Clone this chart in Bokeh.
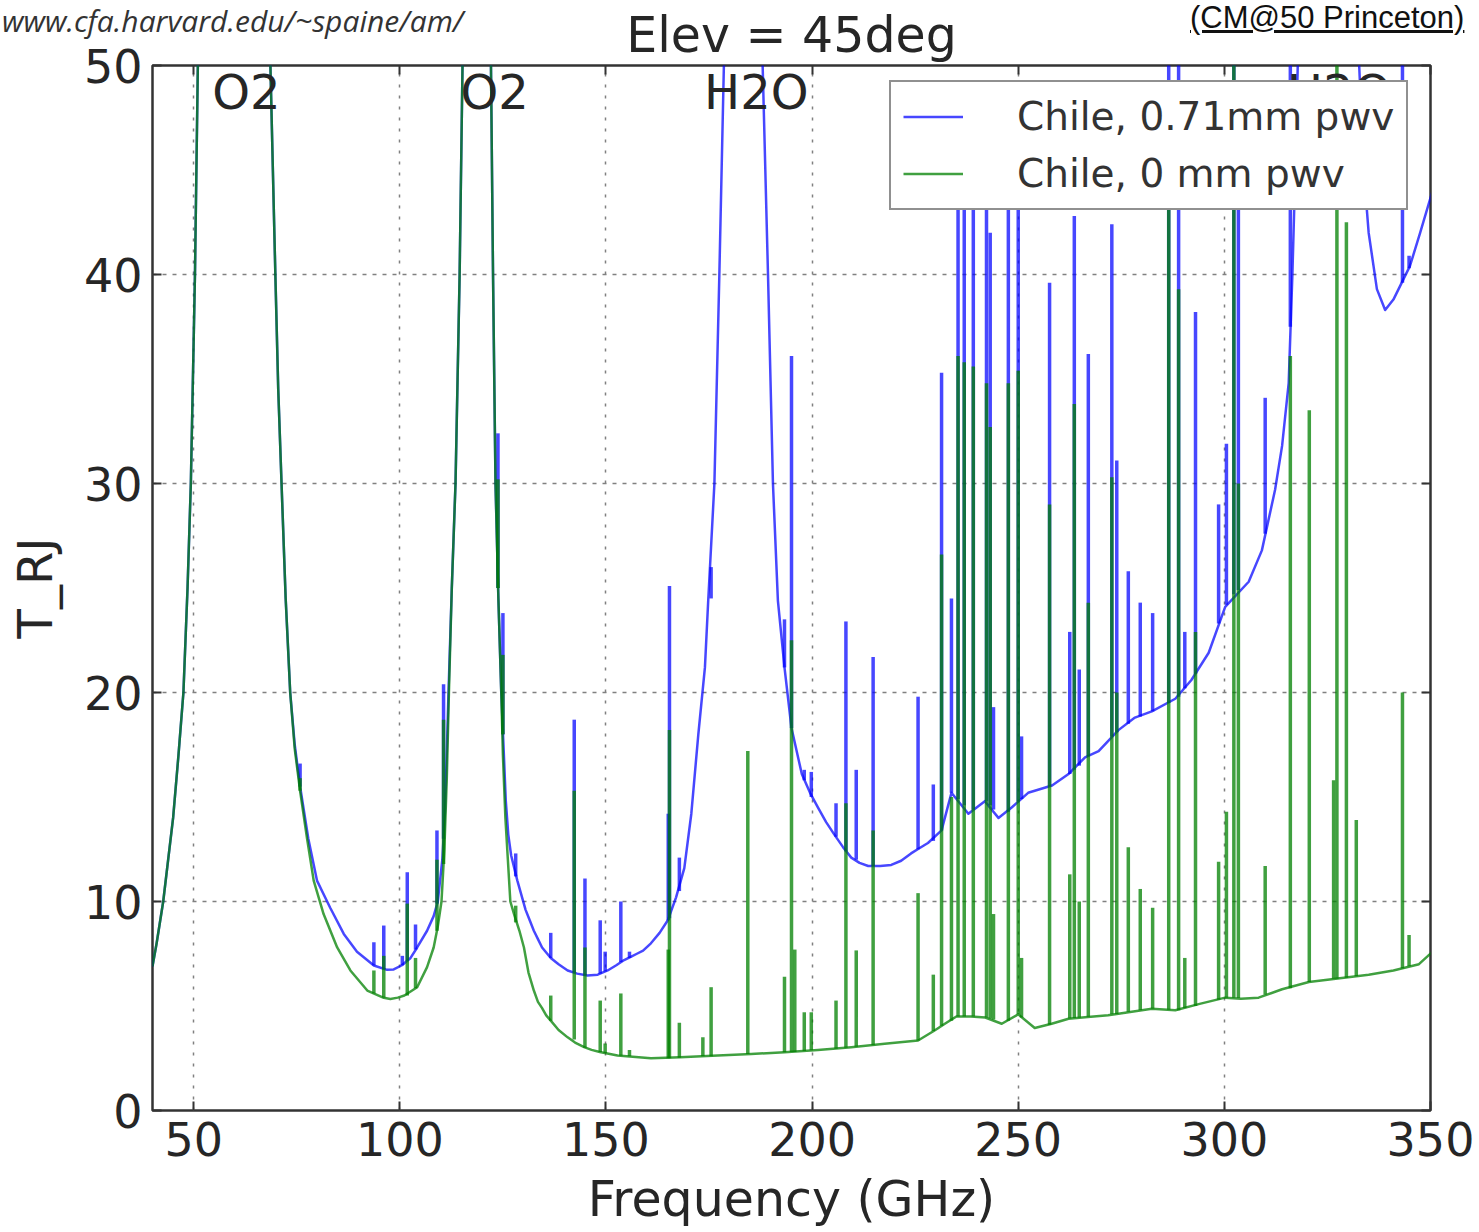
from bokeh.plotting import figure
from bokeh.layouts import column
from bokeh.models import (Range1d, LinearAxis, Legend, LegendItem, FixedTicker,
                          ColumnDataSource, CustomLabelingPolicy, Div)
from bokeh.core.properties import value
from bokeh.embed import file_html
from bokeh.resources import INLINE

# ---------------- data ----------------
# continuum of the 0.71 mm pwv spectrum (GHz, K); 80 = off the top of the chart
freq_wet = [40.0, 41.0, 42.6, 43.8, 45.0, 46.3, 47.5, 48.5, 49.3, 50.3, 51.0, 52.0,
            67.5, 68.6, 69.8, 70.5, 71.3, 72.3, 73.4, 74.5, 75.8, 77.8, 79.9, 83.1,
            86.4, 89.6, 93.7, 96.9, 98.5, 100.5, 102.6, 104.2, 106.6, 108.2, 109.2,
            110.3, 111.0, 111.8, 112.6, 113.5, 114.0, 114.5, 115.2, 116.0, 121.0, 122.1,
            122.6, 123.2, 123.9, 124.6, 125.7, 126.3, 127.0, 128.5, 130.5, 131.5, 132.5,
            133.5, 134.5, 136.6, 138.5, 140.7, 143.0, 145.5, 148.0, 150.4, 152.5, 154.4,
            156.0, 157.5, 159.0, 160.9, 163.0, 165.0, 167.0, 169.0, 170.7, 172.4, 174.0,
            174.8, 176.3, 177.5, 178.6, 179.5, 187.0, 188.0, 189.3, 190.5, 191.7, 193.3,
            195.0, 197.5, 199.5, 201.4, 203.4, 205.4, 207.5, 209.5, 211.5, 213.6, 216.5,
            219.2, 221.6, 224.0, 226.0, 228.1, 231.4, 233.8, 237.9, 241.9, 245.2, 248.4,
            252.4, 258.2, 262.2, 266.2, 269.5, 274.3, 278.3, 282.4, 288.1, 292.0, 296.2,
            300.2, 305.9, 309.1, 312.3, 314.0, 315.6, 316.5, 317.2, 317.8, 318.5, 332.0,
            332.7, 333.8, 335.0, 337.0, 339.0, 341.0, 343.0, 345.0, 347.5, 350.5]
t_wet = [6.9, 8.0, 10.0, 12.0, 14.0, 17.0, 20.0, 25.0, 30.0, 40.0, 50.0, 80.0,
         80.0, 50.0, 40.0, 34.5, 30.0, 24.5, 20.0, 17.5, 15.5, 13.0, 11.0, 9.7,
         8.45, 7.6, 6.94, 6.73, 6.75, 6.95, 7.3, 7.8, 8.6, 9.3, 10.0,
         12.0, 14.5, 20.0, 25.0, 30.0, 35.0, 40.0, 50.0, 80.0, 80.0, 50.0,
         40.0, 30.0, 24.5, 20.0, 14.8, 13.2, 12.2, 11.0, 9.6, 9.1, 8.6,
         8.2, 7.8, 7.3, 7.0, 6.7, 6.55, 6.46, 6.5, 6.7, 6.95, 7.2,
         7.35, 7.5, 7.65, 8.0, 8.5, 9.1, 10.2, 11.6, 14.2, 18.0, 21.2,
         24.4, 30.0, 40.0, 50.0, 80.0, 80.0, 50.0, 40.0, 30.0, 24.4, 21.2,
         18.3, 16.1, 15.2, 14.5, 13.8, 13.2, 12.6, 12.1, 11.85, 11.7, 11.7,
         11.75, 11.95, 12.3, 12.55, 12.8, 13.4, 15.2, 14.2, 14.8, 14.0, 14.5,
         15.2, 15.55, 16.1, 16.9, 17.2, 18.2, 18.8, 19.1, 19.7, 20.6, 21.9,
         24.1, 25.3, 26.8, 29.7, 31.8, 34.8, 40.0, 45.0, 50.0, 80.0, 80.0,
         50.0, 45.0, 42.0, 39.3, 38.3, 38.8, 39.6, 40.4, 42.0, 44.0]

# continuum of the 0 mm pwv spectrum
freq_dry = [40.0, 41.0, 42.6, 43.8, 45.0, 46.3, 47.5, 48.5, 49.3, 50.3, 51.0, 52.0,
            67.5, 68.6, 69.8, 70.5, 71.3, 72.3, 73.4, 74.5, 75.8, 77.5, 79.1, 81.5,
            84.8, 88.0, 92.1, 96.1, 97.7, 99.5, 101.1, 104.2, 106.6, 108.2, 109.2,
            110.1, 110.8, 111.4, 111.9, 112.6, 113.5, 114.0, 114.5, 115.2, 116.0, 121.0,
            122.1, 122.6, 123.2, 123.9, 124.6, 125.0, 125.6, 126.2, 126.8, 127.7, 129.0,
            130.1, 131.2, 132.5, 133.5, 134.5, 135.5, 136.6, 138.5, 140.7, 142.5, 144.7,
            146.5, 148.5, 152.8, 160.9, 168.0, 177.1, 185.2, 193.3, 201.4, 209.5, 217.6,
            225.7, 229.7, 232.2, 235.0, 238.5, 242.0, 246.0, 250.0, 254.0, 258.1, 262.2,
            266.2, 271.8, 274.3, 282.4, 288.1, 294.0, 300.2, 304.0, 308.3, 314.0, 320.5,
            327.0, 335.0, 341.0, 347.2, 350.5]
t_dry = [6.9, 8.0, 10.0, 12.0, 14.0, 17.0, 20.0, 25.0, 30.0, 40.0, 50.0, 80.0,
         80.0, 50.0, 40.0, 34.5, 30.0, 24.5, 20.0, 17.3, 15.3, 13.0, 11.0, 9.4,
         7.8, 6.7, 5.74, 5.39, 5.34, 5.4, 5.5, 5.9, 6.86, 7.8, 8.8,
         10.0, 12.5, 16.0, 20.0, 25.0, 30.0, 35.0, 40.0, 50.0, 80.0, 80.0,
         50.0, 40.0, 30.0, 24.5, 20.0, 17.0, 14.0, 12.0, 10.0, 9.4, 8.6,
         7.8, 6.6, 5.74, 5.2, 4.9, 4.55, 4.3, 3.85, 3.5, 3.25, 3.03,
         2.9, 2.8, 2.63, 2.5, 2.55, 2.63, 2.7, 2.79, 2.9, 3.03, 3.19,
         3.35, 3.83, 4.15, 4.5, 4.5, 4.45, 4.15, 4.6, 3.95, 4.15, 4.39,
         4.46, 4.56, 4.63, 4.87, 4.8, 5.1, 5.4, 5.35, 5.4, 5.8, 6.15,
         6.3, 6.5, 6.7, 7.0, 7.6]

# narrow lines: frequency, peak and foot of each spectrum (K)
line_freq = [75.8, 93.7, 96.1, 100.6, 101.8, 103.8, 109.0, 110.6, 123.8, 125.0,
             128.1, 136.6, 142.3, 144.9, 148.6, 149.8, 153.6, 155.7, 165.1, 165.4,
             167.8, 173.5, 175.5, 184.4, 193.3, 195.0, 195.8, 198.1, 199.8, 205.8,
             208.2, 210.7, 214.8, 225.7, 229.4, 231.4, 233.8, 235.4, 236.9, 239.1,
             242.3, 243.2, 244.0, 247.6, 250.0, 250.8, 257.6, 262.5, 263.6, 264.8,
             267.0, 272.7, 273.9, 276.7, 279.6, 282.6, 286.5, 288.9, 290.4, 293.0,
             298.6, 300.5, 302.3, 303.4, 309.9, 316.0, 320.6, 326.5, 327.3, 329.6,
             332.0, 343.2, 344.8]
wet_peak = [16.6, 8.05, 8.85, 7.4, 11.4, 8.9, 13.4, 20.4, 32.4, 23.8,
            12.3, 8.5, 18.7, 11.1, 9.1, 7.6, 10.0, 7.6, 14.2, 25.1,
            12.1, 19.5, 26.0, 80.0, 23.5, 36.1, 17.5, 16.3, 16.2, 14.7,
            23.4, 16.3, 21.7, 19.8, 15.6, 35.3, 24.5, 47.0, 47.0, 47.0,
            47.0, 42.0, 19.3, 47.0, 47.0, 17.9, 39.6, 22.9, 42.8, 21.1,
            36.2, 42.4, 31.1, 25.8, 24.3, 23.8, 80.0, 80.0, 22.9, 38.2,
            29.0, 31.9, 80.0, 48.0, 34.1, 80.0, 80.0, 80.0, 80.0, 80.0,
            80.0, 80.0, 40.9]
wet_foot = [15.5, 6.94, 6.75, 6.95, 7.15, 7.7, 9.9, 13.0, 25.0, 18.0,
            11.2, 7.3, 6.6, 6.46, 6.55, 6.65, 7.1, 7.3, 9.1, 9.2,
            10.5, 19.5, 24.5, 80.0, 21.2, 18.3, 17.5, 15.8, 15.0, 13.1,
            12.4, 12.0, 11.7, 12.5, 12.9, 13.4, 15.2, 14.9, 14.6, 14.4,
            14.8, 14.6, 14.4, 14.3, 14.8, 14.9, 15.5, 16.1, 16.3, 16.5,
            16.95, 17.9, 18.1, 18.5, 18.85, 19.1, 19.5, 19.8, 20.2, 20.9,
            23.3, 24.2, 24.7, 24.9, 27.6, 37.5, 80.0, 80.0, 80.0, 80.0,
            80.0, 39.6, 40.3]
dry_peak = [15.9, 6.7, 7.4, 5.4, 9.9, 7.3, 12.0, 18.7, 30.2, 21.8,
            9.8, 5.5, 15.3, 7.8, 5.26, 3.2, 5.6, 2.9, 7.7, 18.2,
            4.2, 3.5, 5.9, 17.2, 6.4, 22.5, 7.7, 4.7, 4.7, 5.26,
            14.7, 7.66, 13.4, 10.4, 6.5, 26.6, 15.0, 36.1, 35.8, 35.6,
            34.8, 32.7, 9.4, 34.8, 35.4, 7.3, 29.0, 11.3, 33.8, 10.0,
            24.3, 30.3, 20.0, 12.6, 10.6, 9.7, 47.0, 39.3, 7.3, 22.9,
            11.9, 14.3, 80.0, 30.0, 11.7, 36.1, 33.5, 15.8, 80.0, 42.5,
            13.9, 20.0, 8.4]
dry_foot = [15.3, 5.6, 5.4, 5.4, 5.5, 5.85, 8.6, 11.8, 25.0, 18.0,
            9.0, 4.3, 3.4, 3.0, 2.8, 2.75, 2.62, 2.6, 2.5, 2.5,
            2.52, 2.6, 2.6, 2.7, 2.79, 2.8, 2.8, 2.85, 2.88, 2.95,
            3.0, 3.05, 3.12, 3.35, 3.8, 4.05, 4.3, 4.5, 4.5, 4.5,
            4.45, 4.4, 4.35, 4.3, 4.6, 4.45, 4.1, 4.4, 4.42, 4.44,
            4.48, 4.6, 4.62, 4.72, 4.8, 4.87, 4.82, 4.8, 4.9, 5.0,
            5.3, 5.4, 5.4, 5.38, 5.55, 5.85, 6.15, 6.3, 6.3, 6.35,
            6.42, 6.8, 6.9]

band_names = ["O2", "O2", "H2O", "H2O"]
band_freq = [54.5, 114.7, 173.8, 315.2]

x_ticks = [50, 100, 150, 200, 250, 300, 350]
y_ticks = [0, 10, 20, 30, 40, 50]

series_names = ["Chile, 0.71mm pwv", "Chile, 0 mm pwv"]
title_text = "Elev = 45deg"
source_url = "www.cfa.harvard.edu/~spaine/am/"
credit_text = "(CM@50 Princeton)"

# ---------------- styling ----------------
FONT = "DejaVu Sans"
TXT = "#262626"
BLUE = "#0000ff"
GREEN = "#008000"
HIDE_LABELS = CustomLabelingPolicy(code="""
    const all = Array.from(indices)
    for (const i of all) indices.unset(i)
    return indices
""")

# ---------------- page header (slide texts around the chart) ----------------
header_html = (
    '<div style="position:relative;width:1479px;height:65px;overflow:hidden;">'
    '<span style="position:absolute;left:2px;top:0px;white-space:nowrap;'
    "font-family:'Open Sans';font-style:italic;font-size:30px;"
    f'color:#333333;">{source_url}</span>'
    '<span style="position:absolute;left:1190px;top:2px;white-space:nowrap;'
    "font-family:'Liberation Sans';font-size:31px;line-height:31px;"
    f'color:#111111;text-decoration:underline;">{credit_text}</span>'
    '</div>')
head = Div(text=header_html, width=1479, height=65, margin=0)

# ---------------- main chart ----------------
p = figure(width=1479, height=1232, output_backend="svg", toolbar_location=None,
           x_range=Range1d(40, 350), y_range=Range1d(0, 50), title=title_text,
           min_border_left=152, min_border_right=49, min_border_top=65,
           min_border_bottom=122, background_fill_color="white",
           border_fill_alpha=0, margin=(-65, 0, 0, 0))
p.title.align = "center"
p.title.text_font = FONT
p.title.text_font_size = "49px"
p.title.text_font_style = "normal"
p.title.text_color = TXT
p.title.standoff = -5
p.outline_line_color = "#333333"
p.outline_line_width = 2.5

for ax in (p.xaxis[0], p.yaxis[0]):
    ax.axis_line_color = None
    ax.major_tick_in = 9
    ax.major_tick_out = 0
    ax.major_tick_line_color = "#333333"
    ax.major_tick_line_width = 2
    ax.minor_tick_line_color = None
    ax.major_label_text_font = FONT
    ax.major_label_text_font_size = "46px"
    ax.major_label_text_color = TXT
    ax.axis_label_text_font = FONT
    ax.axis_label_text_font_style = "normal"
    ax.axis_label_text_color = TXT

p.xaxis.ticker = FixedTicker(ticks=x_ticks)
p.yaxis.ticker = FixedTicker(ticks=y_ticks)
p.xaxis.axis_label = "Frequency (GHz)"
p.yaxis.axis_label = "T_RJ"
p.xaxis.axis_label_text_font_size = "49px"
p.yaxis.axis_label_text_font_size = "48px"
p.xaxis.major_label_standoff = 11
p.yaxis.major_label_standoff = 10
p.xaxis.axis_label_standoff = 12
p.yaxis.axis_label_standoff = 18

for loc, tick in (("above", x_ticks), ("right", y_ticks)):
    ax = LinearAxis(ticker=FixedTicker(ticks=tick), axis_line_color=None,
                    major_tick_in=9, major_tick_out=0, major_tick_line_width=2,
                    major_tick_line_color="#333333", minor_tick_line_color=None,
                    major_label_text_font_size="2px", major_label_standoff=0,
                    major_label_policy=HIDE_LABELS)
    p.add_layout(ax, loc)

p.xgrid.ticker = FixedTicker(ticks=x_ticks)
p.ygrid.ticker = FixedTicker(ticks=y_ticks)
p.xgrid.grid_line_color = "#808080"
p.ygrid.grid_line_color = "#808080"
p.xgrid.grid_line_dash = "3 8"
p.ygrid.grid_line_dash = "4 6"
p.xgrid.grid_line_width = 1.5
p.ygrid.grid_line_width = 1.5

wet = p.line(freq_wet, t_wet, line_color=BLUE, line_alpha=0.72, line_width=2.5,
             line_join="round")
lines = ColumnDataSource(dict(f=line_freq, wp=wet_peak, wf=wet_foot,
                              dp=dry_peak, df=dry_foot))
p.segment(x0="f", y0="wf", x1="f", y1="wp", source=lines, line_color=BLUE,
          line_alpha=0.72, line_width=3.5)
dry = p.line(freq_dry, t_dry, line_color=GREEN, line_alpha=0.75, line_width=2.5,
             line_join="round")
p.segment(x0="f", y0="df", x1="f", y1="dp", source=lines, line_color=GREEN,
          line_alpha=0.75, line_width=3.5)

p.text(x=band_freq, y=[48.75] * len(band_freq), text=band_names,
       text_font=value(FONT), text_font_size="48px", text_color=TXT,
       text_baseline="alphabetic", text_align="left")

legend = Legend(items=[LegendItem(label=series_names[0], renderers=[wet]),
                       LegendItem(label=series_names[1], renderers=[dry])],
                location=(737, 900), orientation="vertical",
                label_text_font=FONT, label_text_font_size="39px",
                label_text_color="#333333", glyph_width=60, glyph_height=45,
                label_height=45, label_standoff=54, spacing=12, padding=12,
                margin=0, border_line_color="#222222", border_line_width=2,
                background_fill_color="white", background_fill_alpha=1.0)
p.add_layout(legend)

page = column(head, p, spacing=0)
open("out.html", "w").write(file_html(page, INLINE))
